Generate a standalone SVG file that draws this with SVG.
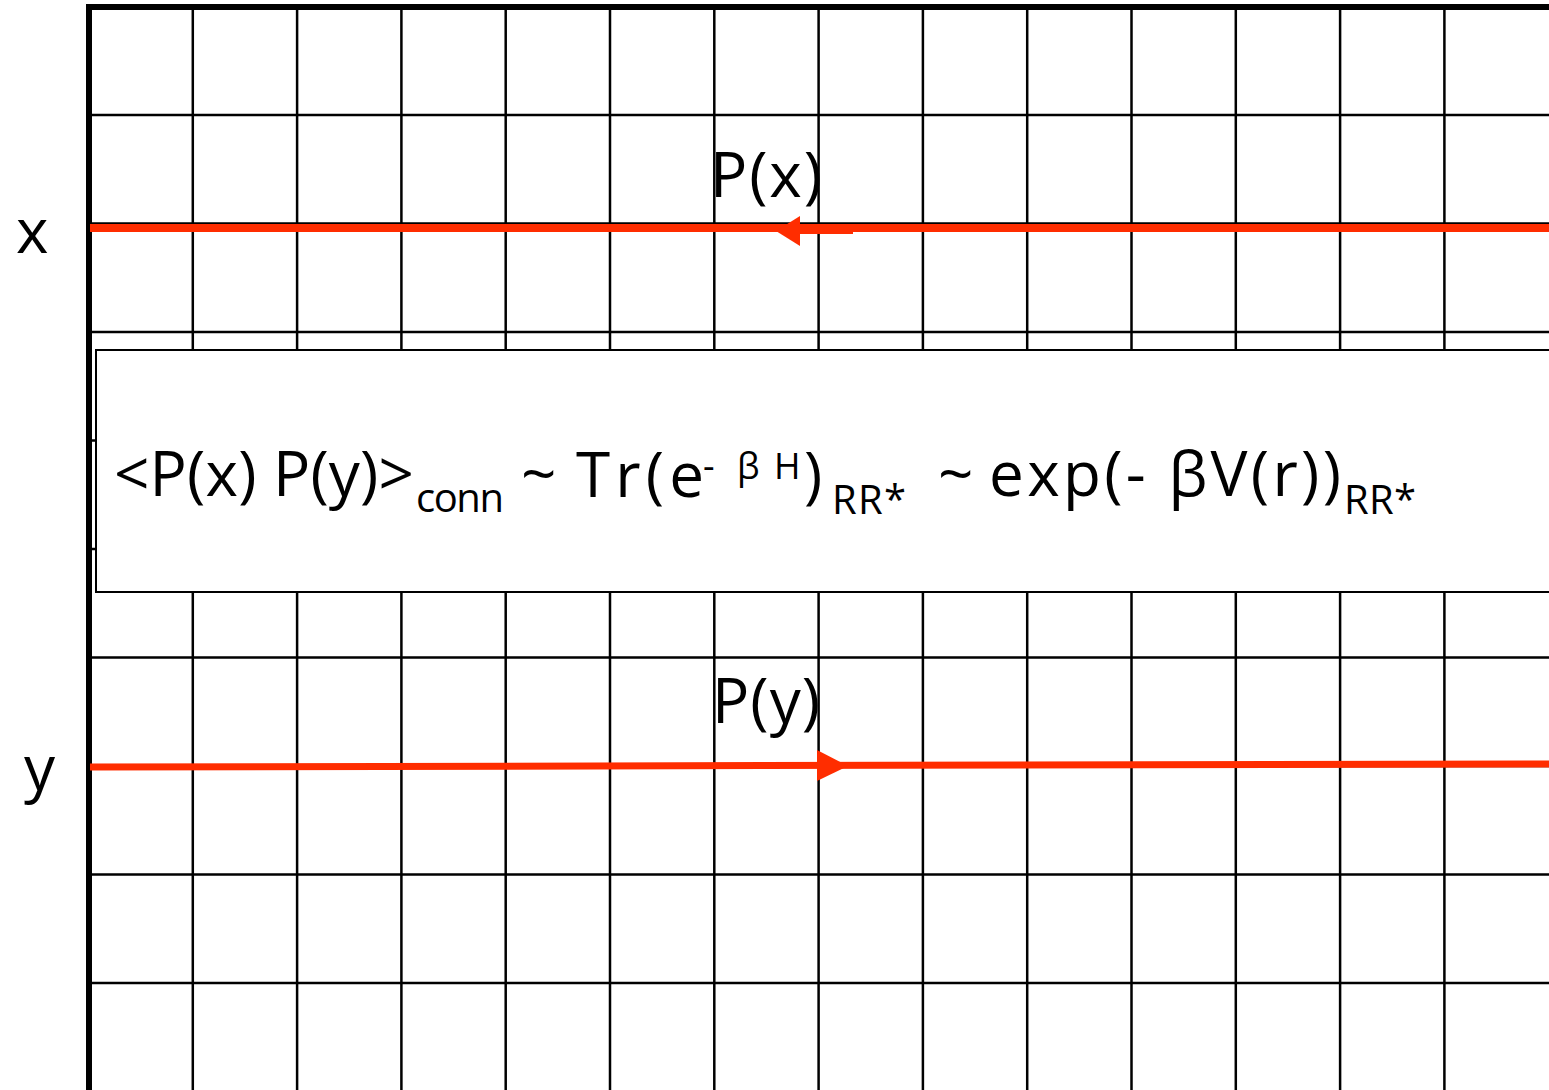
<svg xmlns="http://www.w3.org/2000/svg" width="1549" height="1090" viewBox="0 0 1549 1090">
<style>
.g{stroke:#000;stroke-width:2.5;fill:none}
.t{font-family:"Open Sans","Noto Sans","DejaVu Sans",sans-serif;fill:#000}
.m{font-size:62px}
.s{font-size:40px}
.u{font-size:36px}
.r{stroke:#ff2d00;fill:none}
.h{fill:#ff2d00}
</style>
<rect width="1549" height="1090" fill="#fff"/>
<g id="grid">
<g class="g">
<path d="M192.8 7V1090M297.1 7V1090M401.4 7V1090M505.7 7V1090M610 7V1090M714.3 7V1090M818.6 7V1090M922.9 7V1090M1027.2 7V1090M1131.5 7V1090M1235.8 7V1090M1340.1 7V1090M1444.4 7V1090"/>
<path d="M88 115H1549M88 223.5H1549M88 332H1549M88 440.5H1549M88 549H1549M88 657.5H1549M88 766H1549M88 874.5H1549M88 983H1549"/>
</g>
<path d="M89 4V1090M86 7H1549" stroke="#000" stroke-width="6" fill="none"/>
</g>
<g id="axis-labels">
<text class="t m" x="16" y="253" textLength="31">x</text>
<text class="t m" x="24" y="790" textLength="31">y</text>
</g>
<g id="connectors">
<path class="r" d="M90 228H1549" stroke-width="8"/>
<path class="r" d="M853 231H796" stroke-width="6"/>
<polygon class="h" points="776,231 800,216 800,246"/>
<path class="r" d="M90 767L1549 764" stroke-width="7"/>
<polygon class="h" points="848,766 817,750 817,781"/>
</g>
<g id="label-px">
<text class="t m" x="710" y="197" textLength="112">P(x)</text>
</g>
<g id="label-py">
<text class="t m" x="712" y="723" textLength="108">P(y)</text>
</g>
<g id="formula">
<rect x="96" y="350" width="1470" height="242" fill="#fff" stroke="#000" stroke-width="2"/>
<text class="t m" x="114" y="496" textLength="300">&lt;P(x) P(y)&gt;</text>
<text class="t s" x="416" y="512" textLength="88">conn</text>
<text class="t m" x="521" y="496" textLength="28">~</text>
<text class="t m" x="576" y="497" textLength="128">Tr(e</text>
<text class="t u" x="703" y="479">-</text>
<text class="t u" x="737" y="479">β</text>
<text class="t u" x="774" y="479">H</text>
<text class="t m" x="804" y="497">)</text>
<text class="t s" x="832" y="514" textLength="74">RR*</text>
<text class="t m" x="938" y="496" textLength="28">~</text>
<text class="t m" x="989" y="496" textLength="352">exp(- βV(r))</text>
<text class="t s" x="1344" y="514" textLength="72">RR*</text>
</g>
</svg>
